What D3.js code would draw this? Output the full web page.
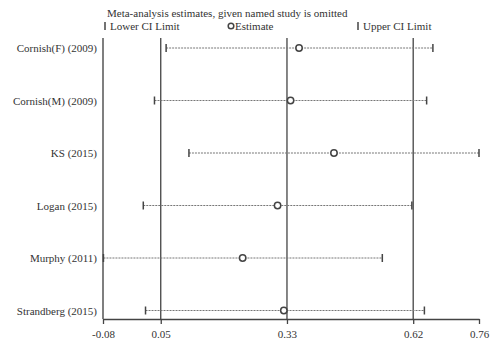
<!DOCTYPE html>
<html>
<head>
<meta charset="utf-8">
<script src="https://cdn.jsdelivr.net/npm/d3@7"></script>
<style>
  body { margin: 0; background: white; }
  text { font-family: "Liberation Serif", "DejaVu Serif", serif; fill: #333; }
</style>
</head>
<body>
<div id="d3_cont"></div>
<script>
// studies omitted in turn
var studies = ["Cornish(F) (2009)", "Cornish(M) (2009)", "KS (2015)", "Logan (2015)", "Murphy (2011)", "Strandberg (2015)"];
var estimate = [0.358, 0.339, 0.436, 0.310, 0.232, 0.324];
var lower = [0.061, 0.035, 0.112, 0.010, -0.079, 0.015];
var upper = [0.657, 0.643, 0.760, 0.610, 0.544, 0.638];

// overall estimate + CI (vertical lines)
var refLines = [0.049, 0.331, 0.613];
var tickValues = [-0.08, 0.049, 0.331, 0.613, 0.76];
var tickLabels = ["-0.08", "0.05", "0.33", "0.62", "0.76"];

var width = 496, height = 345;

var svg = d3.select("#d3_cont")
   .append("svg")
   .attr("width", width)
   .attr("height", height);

var x = d3.scaleLinear()
   .domain([-0.08, 0.76])
   .range([103, 479]);

var y = d3.scalePoint()
   .domain(studies)
   .range([48, 310.5]);

var plotTop = 38, plotBottom = 319;

// title + legend
svg.append("text")
   .attr("x", 107).attr("y", 17)
   .style("font-size", "11px")
   .text("Meta-analysis estimates, given named study is omitted");

var legY = 30;
svg.append("line").attr("x1", 105).attr("x2", 105).attr("y1", legY - 8).attr("y2", legY)
   .attr("stroke", "#444").attr("stroke-width", 1.5);
svg.append("text").attr("x", 110).attr("y", legY).style("font-size", "11px").text("Lower CI Limit");
svg.append("circle").attr("cx", 231).attr("cy", legY - 4).attr("r", 2.8)
   .attr("fill", "none").attr("stroke", "#444").attr("stroke-width", 1.5);
svg.append("text").attr("x", 235).attr("y", legY).style("font-size", "11px").text("Estimate");
svg.append("line").attr("x1", 358).attr("x2", 358).attr("y1", legY - 8).attr("y2", legY)
   .attr("stroke", "#444").attr("stroke-width", 1.5);
svg.append("text").attr("x", 363).attr("y", legY).style("font-size", "11px").text("Upper CI Limit");

// left frame line
svg.append("line")
   .attr("x1", x(-0.08)).attr("x2", x(-0.08))
   .attr("y1", plotTop).attr("y2", plotBottom)
   .attr("stroke", "#555").attr("stroke-width", 1.5);

// reference lines
svg.selectAll(".ref")
   .data(refLines)
   .enter()
   .append("line")
   .attr("class", "ref")
   .attr("x1", d => x(d)).attr("x2", d => x(d))
   .attr("y1", plotTop).attr("y2", plotBottom)
   .attr("stroke", "#444").attr("stroke-width", 1.3);

// x axis
var xAxis = svg.append("g")
   .attr("transform", "translate(0," + plotBottom + ")")
   .call(d3.axisBottom(x)
      .tickValues(tickValues)
      .tickFormat((d, i) => tickLabels[i])
      .tickSize(5)
      .tickSizeOuter(0));
xAxis.select(".domain").attr("stroke", "#444").attr("stroke-width", 1.3);
xAxis.selectAll(".tick line").attr("stroke", "#444").attr("stroke-width", 1.3);
xAxis.selectAll(".tick text")
   .attr("y", 11)
   .style("font-size", "11px")
   .style("font-family", "Liberation Serif, serif")
   .attr("fill", "#333");

// rows
var rows = svg.selectAll(".row")
   .data(studies)
   .enter()
   .append("g")
   .attr("class", "row");

rows.append("text")
   .attr("x", 97)
   .attr("y", d => y(d) + 4)
   .attr("text-anchor", "end")
   .style("font-size", "11px")
   .text(d => d);

rows.append("line")
   .attr("x1", (d, i) => x(lower[i])).attr("x2", (d, i) => x(upper[i]))
   .attr("y1", d => y(d)).attr("y2", d => y(d))
   .attr("stroke", "#777").attr("stroke-width", 1)
   .attr("stroke-dasharray", "2,1");

rows.append("line")
   .attr("x1", (d, i) => x(lower[i])).attr("x2", (d, i) => x(lower[i]))
   .attr("y1", d => y(d) - 4).attr("y2", d => y(d) + 4)
   .attr("stroke", "#444").attr("stroke-width", 1.5);

rows.append("line")
   .attr("x1", (d, i) => x(upper[i])).attr("x2", (d, i) => x(upper[i]))
   .attr("y1", d => y(d) - 4).attr("y2", d => y(d) + 4)
   .attr("stroke", "#444").attr("stroke-width", 1.5);

rows.append("circle")
   .attr("cx", (d, i) => x(estimate[i]))
   .attr("cy", d => y(d))
   .attr("r", 3.2)
   .attr("fill", "white")
   .attr("stroke", "#444")
   .attr("stroke-width", 1.5);
</script>
</body>
</html>
